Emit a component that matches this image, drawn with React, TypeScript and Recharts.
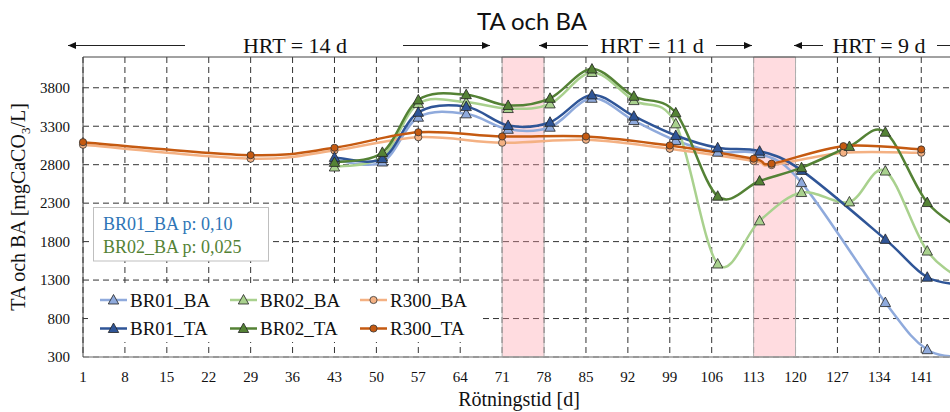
import React from 'react';
import { LineChart, Line, XAxis, YAxis, CartesianGrid, ReferenceArea, ReferenceLine } from 'recharts';

// sampling days
const brDays = [43, 51, 57, 65, 72, 79, 86, 93, 100, 107, 114, 121, 129, 135, 142, 149];
const r300Days = [1, 29, 43, 57, 71, 85, 99, 113, 116, 128, 141];

// alkalinity [mgCaCO3/L]
const br01BA = [2860, 2835, 3417, 3461, 3260, 3287, 3663, 3374, 3115, 2963, 2943, 2567, null, 1008, 395, 300];
const br02BA = [2770, 2905, 3594, 3611, 3530, 3590, 3999, 3633, 3331, 1509, 2070, 2438, 2316, 2717, 1677, 1250];
const br01TA = [2895, 2880, 3481, 3555, 3310, 3352, 3707, 3430, 3180, 3020, 2976, 2726, null, 1829, 1337, 1230];
const br02TA = [2830, 2960, 3642, 3710, 3570, 3663, 4043, 3689, 3474, 2390, 2588, 2761, 3037, 3222, 2308, 1900];
const r300BA = [3059, 2878, 2985, 3157, 3085, 3124, 3007, 2847, 2795, 2955, 2955];
const r300TA = [3093, 2924, 3020, 3222, 3167, 3167, 3050, 2878, 2813, 3041, 2998];

// gridlines run past the visible edge, labels stop at 141
const gridX = Array.from({ length: 24 }, (_, i) => 1 + i * 7);
const xTicks = gridX.filter((d) => d <= 141);
const yTicks = [300, 800, 1300, 1800, 2300, 2800, 3300, 3800];

const serif = '"Liberation Serif", "Times New Roman", serif';

const toRows = (days: number[], vals: (number | null)[]) => days.map((d, i) => ({ day: d, v: vals[i] }));

const series = [
  { name: 'BR01_BA', color: '#8FAADC', shape: 'tri', data: toRows(brDays, br01BA) },
  { name: 'BR02_BA', color: '#A9D18E', shape: 'tri', data: toRows(brDays, br02BA) },
  { name: 'R300_BA', color: '#F4B183', shape: 'dot', data: toRows(r300Days, r300BA) },
  { name: 'BR01_TA', color: '#2F5597', shape: 'tri', data: toRows(brDays, br01TA) },
  { name: 'BR02_TA', color: '#548235', shape: 'tri', data: toRows(brDays, br02TA) },
  { name: 'R300_TA', color: '#C55A11', shape: 'dot', data: toRows(r300Days, r300TA) },
];

// excel-like smoothing (catmull-rom)
const smooth = (context: any) => {
  let pts: number[][] = [];
  return {
    areaStart() {},
    areaEnd() {},
    lineStart() { pts = []; },
    point(x: number, y: number) { pts.push([+x, +y]); },
    lineEnd() {
      const n = pts.length;
      if (!n) return;
      context.moveTo(pts[0][0], pts[0][1]);
      for (let i = 0; i < n - 1; i++) {
        const p0 = pts[Math.max(i - 1, 0)];
        const p1 = pts[i];
        const p2 = pts[i + 1];
        const p3 = pts[Math.min(i + 2, n - 1)];
        context.bezierCurveTo(
          p1[0] + (p2[0] - p0[0]) / 6, p1[1] + (p2[1] - p0[1]) / 6,
          p2[0] - (p3[0] - p1[0]) / 6, p2[1] - (p3[1] - p1[1]) / 6,
          p2[0], p2[1]
        );
      }
    },
  };
};

const Marker = ({ cx, cy, color, shape }: any) =>
  shape === 'tri' ? (
    <polygon
      points={`${cx},${cy - 5.5} ${cx - 5.2},${cy + 4} ${cx + 5.2},${cy + 4}`}
      fill={color}
      stroke="#222"
      strokeWidth={0.8}
    />
  ) : (
    <circle cx={cx} cy={cy} r={3.6} fill={color} stroke="#333" strokeWidth={0.8} />
  );

const Arrow = ({ x1, x2, head, y = 45.5 }: any) => {
  const hx = head === 'left' ? x1 : x2;
  const d = head === 'left' ? 1 : -1;
  return (
    <g>
      <line x1={x1} x2={x2} y1={y} y2={y} stroke="#222" strokeWidth={1} />
      <polygon points={`${hx},${y} ${hx + 8 * d},${y - 3.5} ${hx + 8 * d},${y + 3.5}`} fill="#111" />
    </g>
  );
};

export default function App() {
  return (
    <div style={{ position: 'fixed', left: 0, top: 0, width: 950, height: 412, overflow: 'hidden', background: '#fff' }}>
      <div style={{ position: 'relative', width: 1067, height: 412 }}>
        <LineChart width={1067} height={412} margin={{ top: 57, right: 20, left: 23, bottom: 25 }}>
          <CartesianGrid stroke="#333" strokeDasharray="6 4" horizontalValues={yTicks} verticalValues={gridX} />
          <ReferenceArea x1={71} x2={78} fill="#FF9AA5" fillOpacity={0.35} stroke="#b0b0b0" strokeWidth={1} />
          <ReferenceArea x1={113} x2={120} fill="#FF9AA5" fillOpacity={0.35} stroke="#b0b0b0" strokeWidth={1} />
          <XAxis
            dataKey="day"
            type="number"
            domain={[1, 162]}
            ticks={xTicks}
            allowDuplicatedCategory={false}
            tickLine={false}
            tickMargin={8}
            axisLine={{ stroke: '#999', strokeWidth: 1.5 }}
            tick={{ fontFamily: serif, fontSize: 15, fill: '#111' }}
            interval={0}
          />
          <YAxis
            type="number"
            domain={[300, 4200]}
            ticks={yTicks}
            width={60}
            tickLine={false}
            tickMargin={7}
            axisLine={{ stroke: '#444', strokeWidth: 1 }}
            tick={{ fontFamily: serif, fontSize: 15, fill: '#111' }}
            interval={0}
          />
          <ReferenceLine y={4200} stroke="#444" strokeWidth={1} />
          {series.map((s) => (
            <Line
              key={s.name}
              data={s.data}
              dataKey="v"
              name={s.name}
              type={smooth as any}
              stroke={s.color}
              strokeWidth={2.5}
              connectNulls
              isAnimationActive={false}
              dot={(p: any) =>
                p.cy == null || p.value == null ? (
                  <g key={`${s.name}-${p.index}`} />
                ) : (
                  <Marker key={`${s.name}-${p.index}`} cx={p.cx} cy={p.cy} color={s.color} shape={s.shape} />
                )
              }
              activeDot={false}
            />
          ))}
        </LineChart>

        <svg width={1067} height={412} style={{ position: 'absolute', left: 0, top: 0, pointerEvents: 'none' }}>
          <text x={532} y={30} textAnchor="middle" fontFamily="Lato, sans-serif" fontSize={24} fill="#111">
            TA och BA
          </text>

          <g fontFamily={serif} fontSize={22} fill="#111" textAnchor="middle">
            <text x={295} y={52.5}>HRT = 14 d</text>
            <text x={652} y={52.5}>HRT = 11 d</text>
            <text x={879} y={52.5}>HRT = 9 d</text>
          </g>
          <Arrow x1={68} x2={185} head="left" />
          <Arrow x1={403} x2={490} head="right" />
          <Arrow x1={539} x2={588} head="left" />
          <Arrow x1={716} x2={752} head="right" />
          <Arrow x1={794} x2={823} head="left" />
          <Arrow x1={937} x2={985} head="right" />

          <text transform="translate(25,207) rotate(-90)" textAnchor="middle" fontFamily={serif} fontSize={20} fill="#111">
            TA och BA [mgCaCO
            <tspan dy={5} fontSize={13}>3</tspan>
            <tspan dy={-5}>/L]</tspan>
          </text>
          <text x={519} y={406} textAnchor="middle" fontFamily={serif} fontSize={20} fill="#111">
            Rötningstid [d]
          </text>

          <rect x={93.5} y={207.5} width={175} height={53.5} fill="#fff" stroke="#bfbfbf" strokeWidth={1} />
          <text x={103} y={229.5} fontFamily={serif} fontSize={18} fill="#2E75B6">BR01_BA p: 0,10</text>
          <text x={103} y={252.5} fontFamily={serif} fontSize={18} fill="#548235">BR02_BA p: 0,025</text>

          <rect x={88} y={284} width={392} height={58} fill="#fff" />
          {series.map((s, i) => {
            const x0 = 100 + (i % 3) * 130;
            const y = i < 3 ? 300 : 328.5;
            return (
              <g key={s.name}>
                <line x1={x0} x2={x0 + 27} y1={y} y2={y} stroke={s.color} strokeWidth={2.5} />
                <Marker cx={x0 + 13.5} cy={y} color={s.color} shape={s.shape} />
                <text x={x0 + 30} y={y + 6.5} fontFamily={serif} fontSize={19} fill="#111">{s.name}</text>
              </g>
            );
          })}
        </svg>
      </div>
    </div>
  );
}
